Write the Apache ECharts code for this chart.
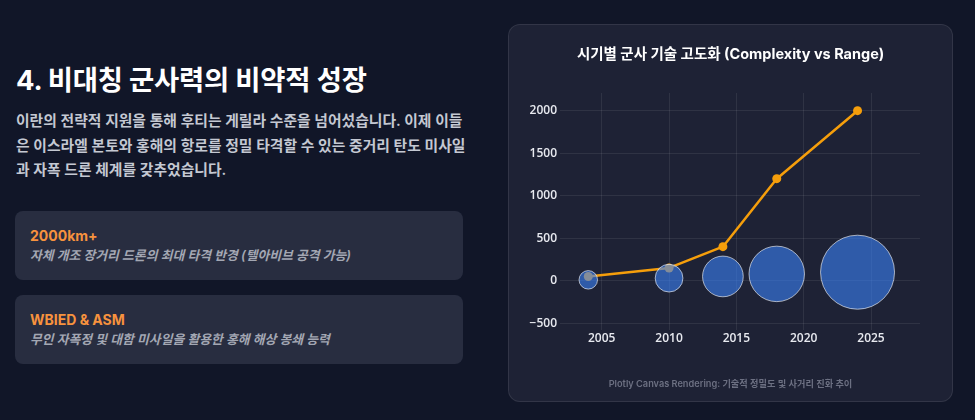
<!DOCTYPE html>
<html lang="ko">
<head>
<meta charset="utf-8">
<script src="https://cdn.jsdelivr.net/npm/echarts@6/dist/echarts.min.js"></script>
<style>
  html, body { margin: 0; padding: 0; }
  body { width: 975px; height: 420px; background: #111628; position: relative; overflow: hidden;
         font-family: Inter, "Noto Sans CJK KR", sans-serif; }
  .h1 { position: absolute; left: 16px; top: 64px; margin: 0; font-size: 27.4px; line-height: 32px;
        font-weight: 700; color: #ffffff; white-space: nowrap; letter-spacing: -0.2px; }
  .para { position: absolute; left: 16px; top: 109px; margin: 0; font-size: 14.8px; line-height: 24.5px;
          font-weight: 600; color: #c4c8d2; white-space: nowrap; }
  .box { position: absolute; left: 15px; width: 448px; height: 69px; background: #282d40; border-radius: 8px; }
  .box .k { position: absolute; left: 15px; top: 16px; font-size: 14px; line-height: 18px; font-weight: 700; color: #f7923e; white-space: nowrap; }
  .box .d { position: absolute; left: 15px; top: 36px; font-size: 12.8px; line-height: 18px; font-weight: 600; font-style: italic; color: #a3a7b3; white-space: nowrap; }
  #card { position: absolute; left: 508px; top: 24px; width: 443px; height: 376px; background: #1e2235;
          border: 1px solid rgba(255,255,255,0.09); border-radius: 12px; overflow: hidden; }
  #chart { position: absolute; left: 0; top: 0; width: 443px; height: 376px; }
</style>
</head>
<body>
  <div class="h1">4. 비대칭 군사력의 비약적 성장</div>
  <div class="para">이란의 전략적 지원을 통해 후티는 게릴라 수준을 넘어섰습니다. 이제 이들<br>은 이스라엘 본토와 홍해의 항로를 정밀 타격할 수 있는 중거리 탄도 미사일<br>과 자폭 드론 체계를 갖추었습니다.</div>
  <div class="box" style="top:211px;">
    <div class="k">2000km+</div>
    <div class="d">자체 개조 장거리 드론의 최대 타격 반경 (텔아비브 공격 가능)</div>
  </div>
  <div class="box" style="top:295px;">
    <div class="k">WBIED &amp; ASM</div>
    <div class="d">무인 자폭정 및 대함 미사일을 활용한 홍해 해상 봉쇄 능력</div>
  </div>
  <div id="card"><div id="chart"></div></div>
<script>
  // ---- data ----
  const years = [2004, 2010, 2014, 2018, 2024];
  const rangeKm = [50, 150, 400, 1200, 2000];          // orange line (range)
  const bubbleLevel = [10, 30, 50, 80, 100];            // bubble y position
  const complexity = [10, 15, 22, 30, 40];              // bubble size driver
  const chartTitle = '시기별 군사 기술 고도화 (Complexity vs Range)';
  const footerText = 'Plotly Canvas Rendering: 기술적 정밀도 및 사거리 진화 추이';

  const lineData = years.map((y, i) => [y, rangeKm[i]]);
  const bubbleData = years.map((y, i) => [y, bubbleLevel[i], complexity[i]]);
  const sizeScale = 1.85;

  const chart = echarts.init(document.getElementById('chart'), null, { renderer: 'canvas' });
  const fontFam = '"Open Sans", Inter, "Noto Sans CJK KR", sans-serif';
  chart.setOption({
    backgroundColor: 'transparent',
    animation: false,
    title: [
      { text: chartTitle, left: 'center', top: 17,
        textStyle: { color: '#ffffff', fontSize: 14.5, fontWeight: 'bold', fontFamily: 'Inter, "Noto Sans CJK KR", sans-serif' } },
      { text: footerText, left: 'center', top: 350,
        textStyle: { color: '#6c7082', fontSize: 9.2, fontWeight: 600, fontFamily: 'Inter, "Noto Sans CJK KR", sans-serif' } }
    ],
    grid: { left: 51, right: 32, top: 68, bottom: 71, containLabel: false },
    xAxis: {
      type: 'value', min: 2001.9, max: 2028.64, splitNumber: 5,
      axisLine: { show: false }, axisTick: { show: false },
      axisLabel: { color: '#e8eaf0', fontSize: 12, fontWeight: 600, fontFamily: fontFam, margin: 3,
                   showMinLabel: false, showMaxLabel: false, formatter: v => String(v) },
      splitLine: { show: true, showMinLine: false, showMaxLine: false, lineStyle: { color: 'rgba(255,255,255,0.08)', width: 1 } }
    },
    yAxis: {
      type: 'value', min: -580, max: 2208, splitNumber: 5,
      axisLine: { show: false }, axisTick: { show: false },
      axisLabel: { color: '#e8eaf0', fontSize: 12, fontWeight: 600, fontFamily: fontFam, margin: 3,
                   showMinLabel: false, showMaxLabel: false,
                   formatter: v => v < 0 ? '\u2212' + Math.abs(v) : String(v) },
      splitLine: { show: true, showMinLine: false, showMaxLine: false, lineStyle: { color: 'rgba(255,255,255,0.08)', width: 1 } }
    },
    series: [
      {
        type: 'line', data: lineData, z: 2,
        symbol: 'circle', symbolSize: 9, showSymbol: true,
        lineStyle: { color: '#f59e0b', width: 2.5 },
        itemStyle: { color: '#f59e0b' }
      },
      {
        type: 'scatter', data: bubbleData, z: 3,
        symbolSize: d => d[2] * sizeScale,
        itemStyle: { color: '#3b82f6', opacity: 0.6, borderColor: '#ffffff', borderWidth: 1 }
      }
    ]
  });
</script>
</body>
</html>
